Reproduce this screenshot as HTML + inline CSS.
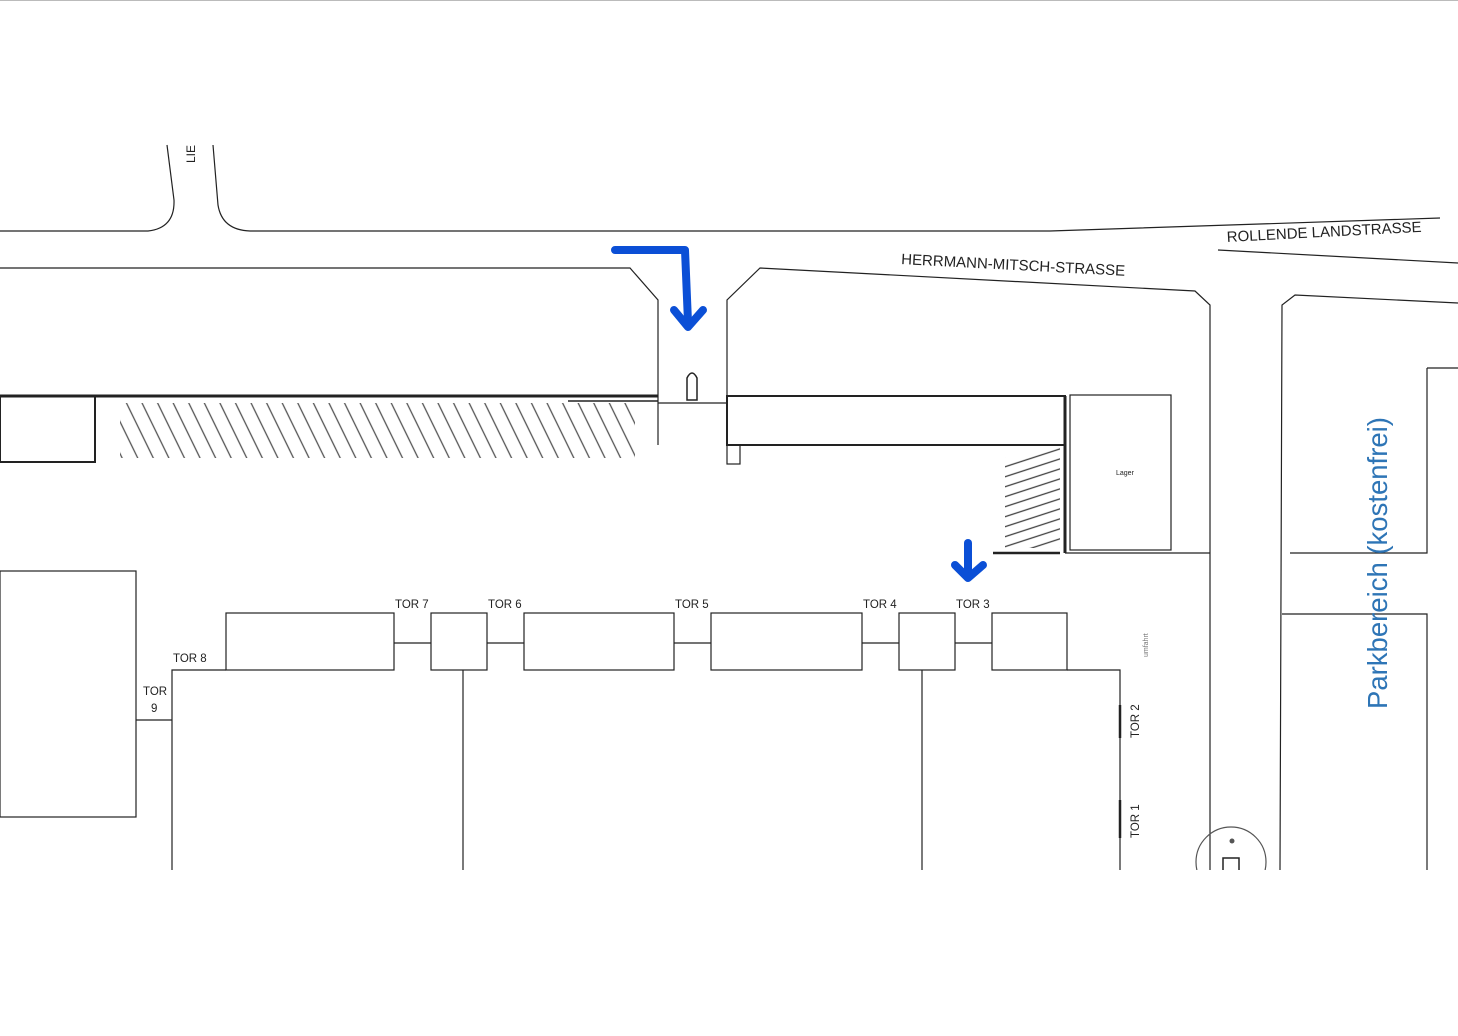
<!DOCTYPE html>
<html><head><meta charset="utf-8"><style>
html,body{margin:0;padding:0;background:#fff;}
svg{display:block;}
text{font-family:"Liberation Sans",sans-serif;}
</style></head><body>
<svg width="1458" height="1036" viewBox="0 0 1458 1036" xmlns="http://www.w3.org/2000/svg">
<defs>
<pattern id="h1" width="14" height="14" patternUnits="userSpaceOnUse" patternTransform="rotate(-26)">
<line x1="7" y1="0" x2="7" y2="14" stroke="#555" stroke-width="1.3"/></pattern>
<pattern id="h2" width="10" height="9.5" patternUnits="userSpaceOnUse" patternTransform="rotate(-18)">
<line x1="0" y1="4" x2="10" y2="4" stroke="#444" stroke-width="1.3"/></pattern>
<clipPath id="cut"><rect x="0" y="0" width="1458" height="870"/></clipPath>
</defs>
<line x1="0" y1="0.5" x2="1458" y2="0.5" stroke="#bbb"/>
<g fill="none" stroke="#222" stroke-width="1.2" clip-path="url(#cut)">
<path d="M0 231 H148 Q175 228 174 200 L167 145"/>
<path d="M213 145 L218 205 Q222 230 250 231 H1050 L1440 218"/>
<path d="M0 268 H630 L658 300 V445"/>
<path d="M727 445 V300 L760 268 L1195 291 L1210 305 V870"/>
<path d="M1218 250 L1458 263"/>
<path d="M1280 870 L1282 305 L1295 295 L1458 303"/>
<path d="M1427 368 H1458 M1427 368 V553 H1290"/>
<path d="M1282 614 H1427 V870"/>
<path d="M658 403 H727"/>
<rect x="0" y="396" width="95" height="66" stroke-width="2"/>
<path d="M0 396 H658" stroke-width="3"/>
<path d="M568 401 H658" stroke-width="1.5"/>
<rect x="727" y="396" width="338" height="49" stroke-width="2"/>
<path d="M1065 396 V553" stroke-width="3"/>
<rect x="727" y="445" width="13" height="19"/>
<rect x="1070" y="395" width="101" height="155"/>
<path d="M1065 553 H1210"/>
<path d="M993 553 H1060" stroke-width="2.5"/>
<rect x="0" y="571" width="136" height="246"/>
<path d="M136 720 H172 M172 870 V670 H226"/>
<rect x="226" y="613" width="168" height="57"/>
<rect x="431" y="613" width="56" height="57"/>
<rect x="524" y="613" width="150" height="57"/>
<rect x="711" y="613" width="151" height="57"/>
<rect x="899" y="613" width="56" height="57"/>
<rect x="992" y="613" width="75" height="57"/>
<path d="M394 643 H431 M487 643 H524 M674 643 H711 M862 643 H899 M955 643 H992"/>
<path d="M1067 670 H1120 V870 M463 670 V870 M922 670 V870"/>
<path d="M1120 705 V738 M1120 800 V838" stroke-width="2.5"/>
<circle cx="1231" cy="862" r="35" stroke="#555"/>
<rect x="1223" y="858" width="16" height="14" stroke-width="1.5"/>
<path d="M687 400 V378 Q692 368 697 378 V400 Z" stroke-width="1.5"/>
</g>
<circle cx="1232" cy="841" r="2.5" fill="#555"/>
<rect x="120" y="403" width="515" height="55" fill="url(#h1)"/>
<polygon points="1005,458 1060,447 1060,548 1005,548" fill="url(#h2)"/>
<g font-size="11.5" fill="#222">
<text x="395" y="608">TOR 7</text><text x="488" y="608">TOR 6</text>
<text x="675" y="608">TOR 5</text><text x="863" y="608">TOR 4</text>
<text x="956" y="608">TOR 3</text><text x="173" y="662">TOR 8</text>
<text x="143" y="695">TOR</text><text x="151" y="712">9</text>
<text transform="translate(1139,738) rotate(-90)">TOR 2</text>
<text transform="translate(1139,838) rotate(-90)">TOR 1</text>
<text x="1116" y="475" font-size="7">Lager</text>
<text transform="translate(1148,657) rotate(-90)" font-size="7" fill="#777">umfahrt</text>
<text transform="translate(195,163) rotate(-90)" font-size="12">LIE</text>
</g>
<text transform="translate(901,264) rotate(3)" font-size="15" fill="#222">HERRMANN-MITSCH-STRASSE</text>
<text transform="translate(1227,242) rotate(-3)" font-size="15" fill="#222">ROLLENDE LANDSTRASSE</text>
<text transform="translate(1387,709) rotate(-90)" font-size="27.5" fill="#2e75b6" font-family="Liberation Sans, DejaVu Sans, sans-serif">Parkbereich (kostenfrei)</text>
<g fill="none" stroke="#0b4fd6" stroke-width="8" stroke-linecap="round" stroke-linejoin="round">
<path d="M615 250 H685 L688 322"/>
<path d="M674 310 L688 327 L703 310"/>
<path d="M968 543 V576"/>
<path d="M955 565 L968 578 L983 565"/>
</g>
</svg>
</body></html>
